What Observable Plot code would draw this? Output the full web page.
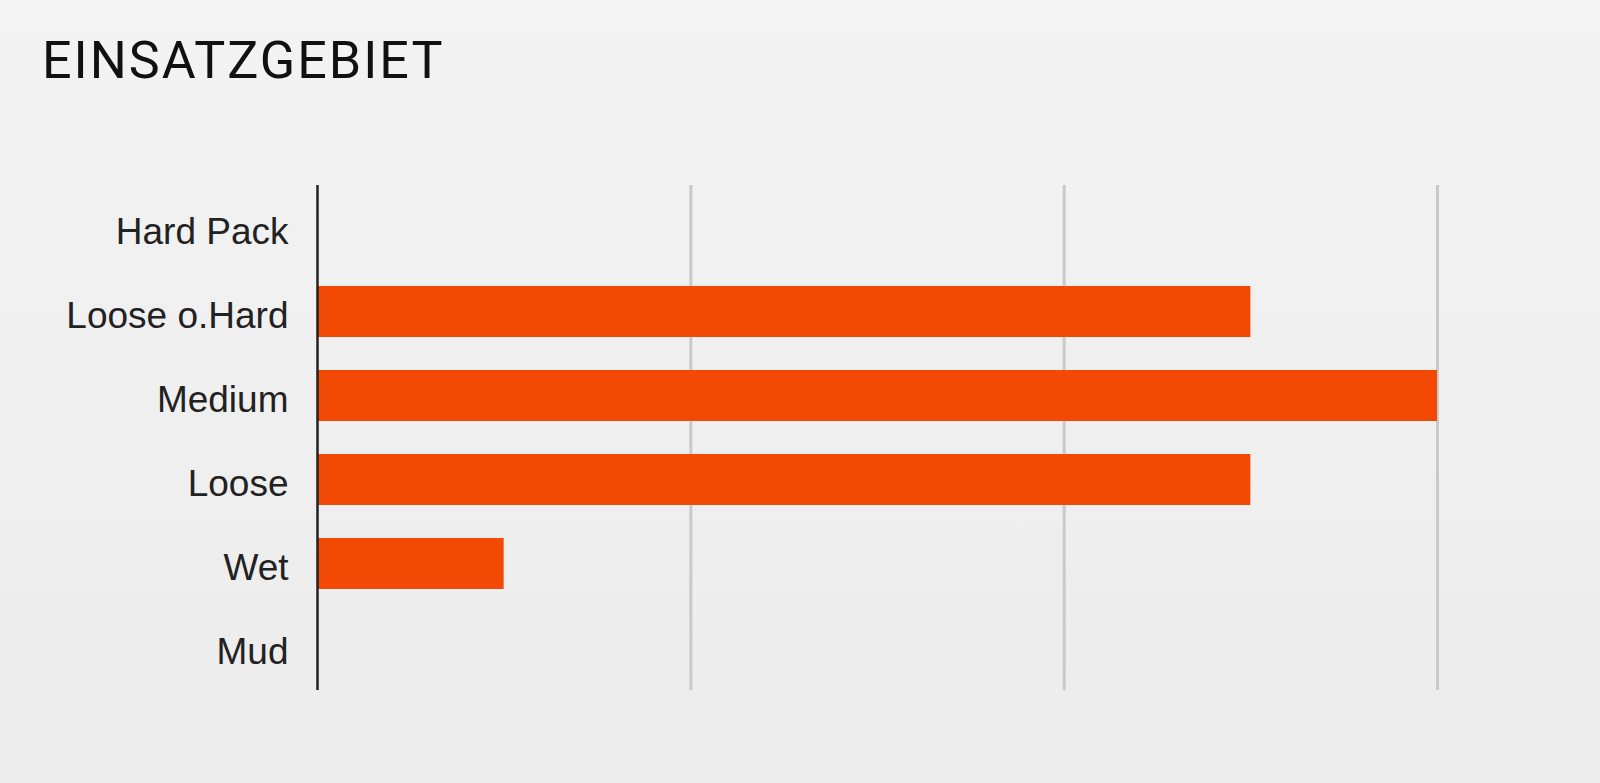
<!DOCTYPE html>
<html>
<head>
<meta charset="utf-8">
<script src="https://cdn.jsdelivr.net/npm/d3@7"></script>
<script src="https://cdn.jsdelivr.net/npm/@observablehq/plot@0.6"></script>
<style>
  html, body { margin: 0; padding: 0; }
  body {
    width: 1600px; height: 783px; overflow: hidden; position: relative;
    background: linear-gradient(to bottom, #f3f3f3 0%, #ececec 100%);
  }
  #title {
    position: absolute; left: 42px; top: 35px;
    font-family: Roboto, "DejaVu Sans", sans-serif;
    font-size: 52px; font-weight: 400; letter-spacing: 2px;
    color: #111; line-height: 1;
  }
  #chart { position: absolute; left: 0; top: 120px; }
</style>
</head>
<body>
<div id="title">EINSATZGEBIET</div>
<div id="chart"></div>
<script>
// Terrain categories and their suitability rating (0–6)
const terrains = ["Hard Pack", "Loose o.Hard", "Medium", "Loose", "Wet", "Mud"];
const ratings = [0, 5, 6, 5, 1, 0];
const gridTicks = [2, 4, 6];

const data = terrains.map((terrain, i) => ({terrain, rating: ratings[i]}));

const chart = Plot.plot({
  width: 1600,
  height: 663,
  marginTop: 65,
  marginBottom: 93,
  marginLeft: 317,
  marginRight: 163,
  style: {
    background: "transparent",
    fontFamily: "'Liberation Sans', Arial, sans-serif",
    color: "#222"
  },
  x: {domain: [0, 6], axis: null},
  y: {
    domain: terrains,
    paddingInner: 0.39,
    paddingOuter: 0.195,
    label: null
  },
  marks: [
    Plot.ruleX(gridTicks, {stroke: "#c9c9c9", strokeWidth: 3}),
    Plot.barX(data, {x: "rating", y: "terrain", fill: "#f24a05"}),
    Plot.ruleX([0], {stroke: "#222", strokeWidth: 2.5}),
    Plot.axisY({tickSize: 0, tickPadding: 29, fontSize: 37, dy: 4, label: null, fill: "#222"})
  ]
});

document.getElementById("chart").appendChild(chart);
</script>
</body>
</html>
